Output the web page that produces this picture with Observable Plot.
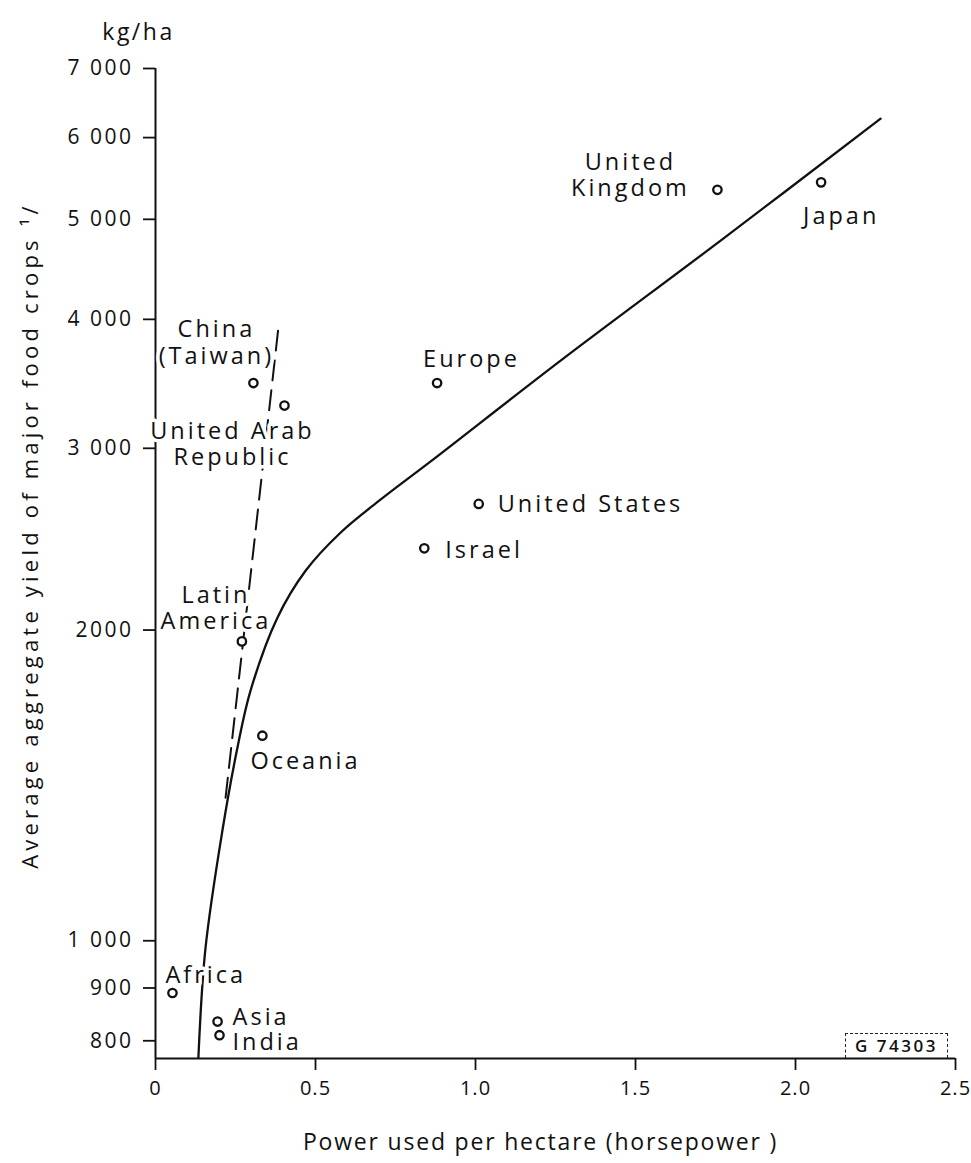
<!DOCTYPE html>
<html>
<head>
<meta charset="utf-8">
<script src="https://cdn.jsdelivr.net/npm/d3@7"></script>
<script src="https://cdn.jsdelivr.net/npm/@observablehq/plot@0.6"></script>
<style>
  body { margin: 0; background: #fff; }
  #chart { position: relative; width: 971px; height: 1163px; }
  #chart svg text { letter-spacing: 2.5px; }
  #chart svg .lbl text { letter-spacing: 3px; }
  #chart svg .ytitle text { letter-spacing: 4.2px; }
  #chart svg .xtitle text { letter-spacing: 1.8px; }
  #chart svg g[aria-label="x-axis tick label"] text { letter-spacing: 1px; }
  .stamp {
    position: absolute; left: 845px; top: 1033px; width: 101px; height: 24px;
    border: 1.5px dashed #222; border-bottom: none;
    font-family: 'Open Sans', sans-serif; font-size: 17px; font-weight: 600; letter-spacing: 2.5px;
    color: #111; line-height: 24px; text-align: center;
  }
</style>
</head>
<body>
<div id="chart"></div>
<script>
// ---- data ----
const countries = ["Africa", "Asia", "India", "Latin America", "Oceania", "China (Taiwan)",
  "United Arab Republic", "Europe", "United States", "Israel", "United Kingdom", "Japan"];
const countryLabels = ["Africa", "Asia", "India", "Latin\nAmerica", "Oceania", "China\n(Taiwan)",
  "United Arab\nRepublic", "Europe", "United States", "Israel", "United\nKingdom", "Japan"];
const powerPerHa = [0.053, 0.194, 0.200, 0.270, 0.334, 0.306, 0.403, 0.880, 1.010, 0.840, 1.756, 2.080];
const yieldKgHa = [890, 835, 810, 1950, 1580, 3470, 3300, 3470, 2650, 2400, 5340, 5430];

const trendPower = [0.134, 0.156, 0.209, 0.256, 0.297, 0.381, 0.469, 0.578, 0.703, 0.859, 1.266, 1.766, 2.266];
const trendYield = [770, 982, 1278, 1538, 1747, 2056, 2283, 2485, 2675, 2912, 3648, 4768, 6259];

const dashPower = [0.219, 0.383];
const dashYield = [1376, 3900];

const xTicks = [0, 0.5, 1.0, 1.5, 2.0, 2.5];
const xTickLabels = ["0", "0.5", "1.0", "1.5", "2.0", "2.5"];
const yTicks = [800, 900, 1000, 2000, 3000, 4000, 5000, 6000, 7000];
const yTickLabels = ["800", "900", "1 000", "2000", "3 000", "4 000", "5 000", "6 000", "7 000"];

const xTitle = "Power used per hectare (horsepower )";
const yTitle = "Average aggregate yield of major food crops \u00B9/";
const unitLabel = "kg/ha";
const stampText = "G 74303";

// ---- layout (label placement relative to each point) ----
const labelLayout = {
  "Africa": {dx: -7, dy: -18, anchor: "start"},
  "Asia": {dx: 15, dy: -5, anchor: "start"},
  "India": {dx: 13, dy: 6, anchor: "start"},
  "Latin America": {dx: -26, dy: -34, anchor: "middle"},
  "Oceania": {dx: -12, dy: 25, anchor: "start"},
  "China (Taiwan)": {dx: -37, dy: -41, anchor: "middle"},
  "United Arab Republic": {dx: -52, dy: 38, anchor: "middle"},
  "Europe": {dx: -14, dy: -25, anchor: "start"},
  "United States": {dx: 19, dy: 0, anchor: "start"},
  "Israel": {dx: 21, dy: 1, anchor: "start"},
  "United Kingdom": {dx: -87, dy: -15, anchor: "middle"},
  "Japan": {dx: -18, dy: 33, anchor: "start"}
};

const points = countries.map((c, i) => ({country: c, label: countryLabels[i], x: powerPerHa[i], y: yieldKgHa[i]}));
const trend = trendPower.map((x, i) => ({x, y: trendYield[i]}));
const dashed = dashPower.map((x, i) => ({x, y: dashYield[i]}));

const yDomain = [769, 7000];
const font = "'Open Sans', 'DejaVu Sans', sans-serif";

const labelMarks = points.map(p => {
  const L = labelLayout[p.country];
  return Plot.text([p], {
    x: "x", y: "y", text: "label",
    dx: L.dx, dy: L.dy, textAnchor: L.anchor, lineAnchor: "middle",
    lineHeight: 1.12, fontSize: 23.5, fill: "#111",
    stroke: "white", strokeWidth: 7, className: "lbl"
  });
});

const plot = Plot.plot({
  width: 971,
  height: 1163,
  marginLeft: 155,
  marginRight: 16,
  marginTop: 68,
  marginBottom: 105,
  x: {domain: [0, 2.5]},
  y: {type: "log", domain: yDomain},
  style: {fontFamily: font, fontSize: "21px", color: "#111", background: "white"},
  marks: [
    Plot.ruleX([0], {strokeWidth: 2, stroke: "#111"}),
    Plot.ruleY([yDomain[0]], {strokeWidth: 2, stroke: "#111"}),
    Plot.axisX({ticks: xTicks, tickFormat: d => xTickLabels[xTicks.indexOf(d)], tickSize: 12, tickPadding: 10,
      fontSize: 20, label: null, strokeWidth: 1.8}),
    Plot.axisY({ticks: yTicks, tickFormat: d => yTickLabels[yTicks.indexOf(d)], tickSize: 12, tickPadding: 10,
      fontSize: 21, label: null, strokeWidth: 1.8}),
    Plot.line(trend, {x: "x", y: "y", curve: "catmull-rom", stroke: "#111", strokeWidth: 2.3}),
    Plot.line(dashed, {x: "x", y: "y", stroke: "#111", strokeWidth: 2, strokeDasharray: "20,10"}),
    ...labelMarks,
    Plot.dot(points, {x: "x", y: "y", r: 4.2, stroke: "#111", strokeWidth: 2.3, fill: "white"}),
    Plot.text([unitLabel], {text: d => d, frameAnchor: "top-left", textAnchor: "middle", lineAnchor: "middle",
      dx: -17, dy: -36, fontSize: 23, fill: "#111"}),
    Plot.text([xTitle], {text: d => d, frameAnchor: "bottom", textAnchor: "middle", lineAnchor: "middle",
      dx: -15, dy: 84, fontSize: 23, fill: "#111", className: "xtitle"}),
    Plot.text([yTitle], {text: d => d, frameAnchor: "left", textAnchor: "middle", lineAnchor: "middle",
      rotate: -90, dx: -125, dy: -28, fontSize: 22, fill: "#111", className: "ytitle"})
  ]
});

const chart = document.getElementById("chart");
chart.appendChild(plot);
const stamp = document.createElement("div");
stamp.className = "stamp";
stamp.textContent = stampText;
chart.appendChild(stamp);
</script>
</body>
</html>
